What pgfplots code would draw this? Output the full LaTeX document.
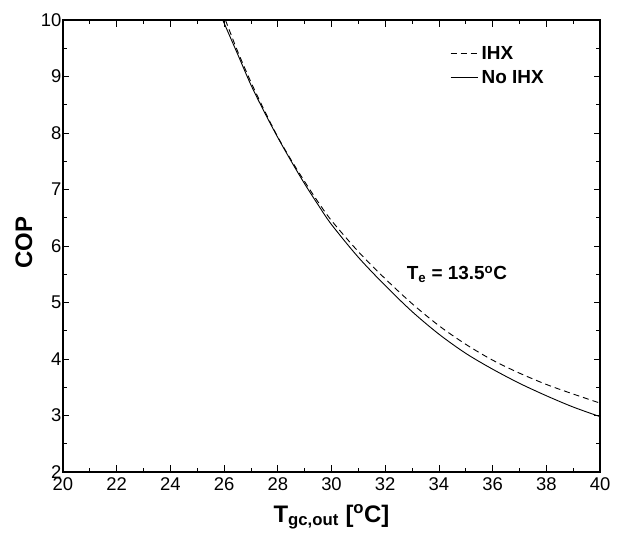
\documentclass[border=0pt]{standalone}
\usepackage{fontspec}
\setmainfont{Liberation Sans}
\usepackage{pgfplots}
\pgfplotsset{compat=1.18}
\begin{document}
\begin{tikzpicture}
\begin{axis}[
  at={(0,0)}, anchor=south west,
  width=537bp, height=452bp, scale only axis,
  xmin=20, xmax=40, ymin=2, ymax=10,
  xtick={20,22,...,40}, ytick={2,3,...,10},
  minor x tick num=1, minor y tick num=1,
  tick align=inside,
  major tick length=6.5bp, minor tick length=4bp,
  axis line style={line width=1.2bp},
  every tick/.style={black, line width=0.8bp},
  /pgf/number format/assume math mode=true,
  xticklabel style={font=\fontsize{18.5}{20}\selectfont, inner sep=0pt, anchor=north, yshift=-5bp},
  yticklabel style={font=\fontsize{18.5}{20}\selectfont, inner sep=1.5bp, anchor=east},
  xlabel={\textbf{T\textsubscript{gc,out} [\textsuperscript{o}C]}},
  ylabel={\textbf{COP}},
  label style={font=\fontsize{24}{26}\selectfont},
  xlabel style={at={(axis description cs:0.5,-0.0708)}, anchor=north, inner sep=0pt},
  ylabel style={at={(axis description cs:-0.0726,0.507)}, anchor=center, rotate=0, inner sep=0pt},
  legend cell align=left,
  legend style={draw=none, fill=none, at={(axis description cs:0.7207,0.945)}, anchor=north west,
    font=\bfseries\fontsize{19}{21}\selectfont, inner sep=0pt, row sep=6bp,
    nodes={inner ysep=1.5bp, inner xsep=3.5bp}},
  legend image code/.code={\draw[#1] (0bp,0bp) -- (27bp,0bp);},
]
\addplot[black, line width=0.9bp, dash pattern=on 6bp off 4bp, smooth, tension=0.5] coordinates {
(26.05,10.0) (26.5,9.45) (27,8.9) (27.5,8.4) (28,7.93) (28.5,7.52) (29,7.14) (29.5,6.78) (30,6.45)
(31,5.9) (32,5.42) (33,4.98) (34,4.59) (35,4.26) (36,3.98) (37,3.75)
(38,3.55) (39,3.38) (40,3.22)};
\addlegendentry{IHX}
\addplot[black, line width=0.9bp, smooth, tension=0.5] coordinates {
(25.95,10.0) (26.5,9.4) (27,8.85) (27.5,8.37) (28,7.92) (28.5,7.5) (29,7.1) (29.5,6.73) (30,6.38)
(31,5.8) (32,5.3) (33,4.84) (34,4.44) (35,4.1) (36,3.82) (37,3.57)
(38,3.35) (39,3.15) (40,2.98)};
\addlegendentry{No IHX}
\node[anchor=base west, inner sep=0pt, font=\bfseries\fontsize{19}{21}\selectfont]
  at (axis cs:32.8,5.40) {T\textsubscript{e} = 13.5\textsuperscript{o}C};
\end{axis}
\pgfresetboundingbox
\path[use as bounding box] (-63bp,-63bp) rectangle (555bp,472bp);
\end{tikzpicture}
\end{document}
